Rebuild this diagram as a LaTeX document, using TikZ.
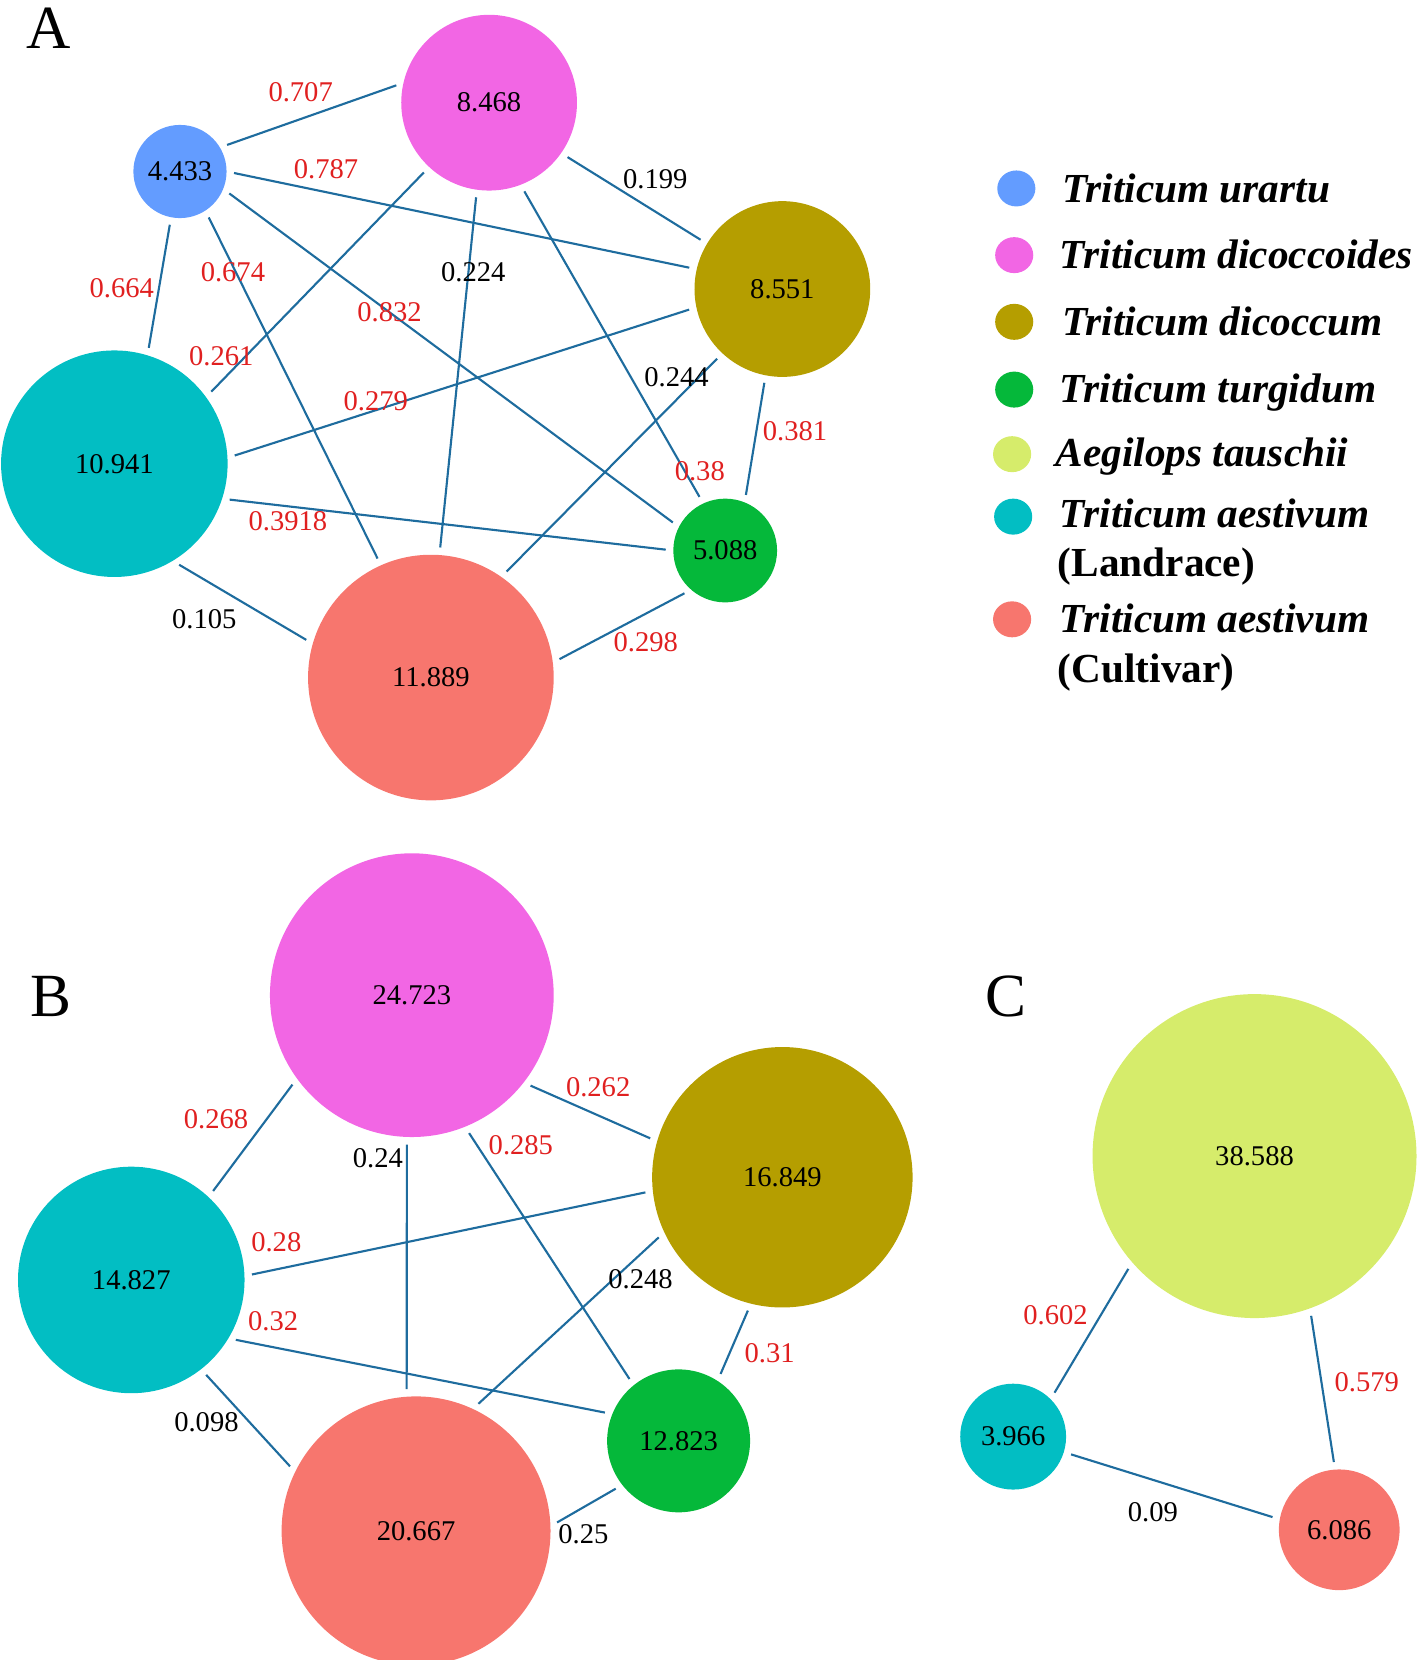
\documentclass[tikz,border=0pt]{standalone}
\usepackage{fontspec}
\usetikzlibrary{shapes.geometric}
\setmainfont{Liberation Serif}
\definecolor{cU}{RGB}{99,156,255}
\definecolor{cDs}{RGB}{242,102,228}
\definecolor{cDm}{RGB}{181,158,0}
\definecolor{cG}{RGB}{5,184,58}
\definecolor{cAe}{RGB}{214,236,107}
\definecolor{cT}{RGB}{2,190,195}
\definecolor{cC}{RGB}{247,118,110}
\definecolor{lineblue}{RGB}{30,108,158}
\definecolor{labred}{RGB}{224,32,32}
\begin{document}
\begin{tikzpicture}[x=1pt,y=-1pt,
  vtx/.style={circle, inner sep=0pt, draw=none, font=\fontsize{27}{27}\selectfont},
  conn/.style={draw=lineblue, line width=2pt, shorten >=7pt, shorten <=7pt},
  redlab/.style={text=labred, inner sep=0pt, font=\fontsize{27}{27}\selectfont},
  blklab/.style={text=black, inner sep=0pt, font=\fontsize{27}{27}\selectfont},
  paneltag/.style={inner sep=0pt, font=\fontsize{58}{58}\selectfont},
  legdot/.style={ellipse, inner sep=0pt, minimum width=36pt, minimum height=34pt, draw=none},
  legtxt/.style={anchor=base west, inner sep=0pt, font=\fontsize{39}{39}\selectfont\bfseries\itshape},
  legtxtup/.style={anchor=base west, inner sep=0pt, font=\fontsize{39}{39}\selectfont\bfseries}
]
\useasboundingbox (0,0) rectangle (1345,1568);

% ---------- Panel A ----------
\node[paneltag] (tagA) at (46,27) {A};
\node[vtx, fill=cU,  minimum size=88pt]  (aU)  at (170,162) {4.433};
\node[vtx, fill=cDs, minimum size=166pt] (aDs) at (462,97)  {8.468};
\node[vtx, fill=cDm, minimum size=166pt] (aDm) at (739,273) {8.551};
\node[vtx, fill=cT,  minimum size=214pt] (aT)  at (108,438) {10.941};
\node[vtx, fill=cG,  minimum size=98pt]  (aG)  at (685,520) {5.088};
\node[vtx, fill=cC,  minimum size=232pt] (aC)  at (407,640) {11.889};

\draw[conn] (aU.31)   -- (aDs.167);
\draw[conn] (aU.0)    -- (aDm.167);
\draw[conn] (aU.259)  -- (aT.73);
\draw[conn] (aU.-57)  -- (aC.114);
\draw[conn] (aU.-22)  -- (aG.153);
\draw[conn] (aDs.227) -- (aT.36);
\draw[conn] (aDs.262) -- (aC.86);
\draw[conn] (aDs.-69) -- (aG.115);
\draw[conn] (aDs.-35) -- (aDm.149);
\draw[conn] (aDm.192) -- (aT.3);
\draw[conn] (aDm.227) -- (aC.55);
\draw[conn] (aDm.259) -- (aG.68);
\draw[conn] (aT.-18)  -- (aG.180);
\draw[conn] (aT.-59)  -- (aC.164);
\draw[conn] (aC.7)    -- (aG.229);

\node[redlab] (lA1)  at (284,87)  {0.707};
\node[redlab] (lA2)  at (308,160) {0.787};
\node[redlab] (lA3)  at (115,272) {0.664};
\node[redlab] (lA4)  at (220,257) {0.674};
\node[redlab] (lA5)  at (368,295) {0.832};
\node[redlab] (lA6)  at (209,336) {0.261};
\node[blklab] (lA7)  at (447,257) {0.224};
\node[redlab] (lA8)  at (661,445) {0.38};
\node[blklab] (lA9)  at (619,169) {0.199};
\node[redlab] (lA10) at (355,379) {0.279};
\node[blklab] (lA11) at (639,356) {0.244};
\node[redlab] (lA12) at (751,407) {0.381};
\node[redlab] (lA13) at (272,492) {0.3918};
\node[blklab] (lA14) at (193,585) {0.105};
\node[redlab] (lA15) at (610,607) {0.298};

% ---------- Legend ----------
\node[legdot, fill=cU]  (dU)  at (960,178) {};
\node[legdot, fill=cDs] (dDs) at (958,241) {};
\node[legdot, fill=cDm] (dDm) at (958,304) {};
\node[legdot, fill=cG]  (dG)  at (958,368) {};
\node[legdot, fill=cAe] (dAe) at (956,429) {};
\node[legdot, fill=cT]  (dT)  at (957,488) {};
\node[legdot, fill=cC]  (dC)  at (956,585) {};

\node[legtxt] (tU)  at (1003,191) {Triticum urartu};
\node[legtxt] (tDs) at (1001,254) {Triticum dicoccoides};
\node[legtxt] (tDm) at (1003,317) {Triticum dicoccum};
\node[legtxt] (tG)  at (1001,380) {Triticum turgidum};
\node[legtxt] (tAe) at (997,441)  {Aegilops tauschii};
\node[legtxt] (tT)  at (1001,498) {Triticum aestivum};
\node[legtxtup] (tT2) at (999,545) {(Landrace)};
\node[legtxt] (tC)  at (1001,597) {Triticum aestivum};
\node[legtxtup] (tC2) at (999,645) {(Cultivar)};

% ---------- Panel B ----------
\node[paneltag] (tagB) at (48,941) {B};
\node[vtx, fill=cDs, minimum size=268pt] (bDs) at (389,940)  {24.723};
\node[vtx, fill=cDm, minimum size=246pt] (bDm) at (739,1112) {16.849};
\node[vtx, fill=cT,  minimum size=214pt] (bT)  at (124,1209) {14.827};
\node[vtx, fill=cG,  minimum size=135pt] (bG)  at (641,1361) {12.823};
\node[vtx, fill=cC,  minimum size=254pt] (bC)  at (393,1446) {20.667};

\draw[conn] (bDs.216) -- (bT.47);
\draw[conn] (bDs.268) -- (bC.94);
\draw[conn] (bDs.-68) -- (bG.129);
\draw[conn] (bDs.-38) -- (bDm.164);
\draw[conn] (bT.2)    -- (bDm.186);
\draw[conn] (bT.-31)  -- (bG.158);
\draw[conn] (bT.-52)  -- (bC.154);
\draw[conn] (bDm.205) -- (bC.65);
\draw[conn] (bDm.256) -- (bG.57);
\draw[conn] (bC.2)    -- (bG.218);

\node[redlab] (lB1)  at (204,1057) {0.268};
\node[blklab] (lB2)  at (357,1094) {0.24};
\node[redlab] (lB3)  at (492,1082) {0.285};
\node[redlab] (lB4)  at (565,1027) {0.262};
\node[redlab] (lB5)  at (261,1173) {0.28};
\node[redlab] (lB6)  at (258,1248) {0.32};
\node[blklab] (lB7)  at (195,1343) {0.098};
\node[blklab] (lB8)  at (605,1208) {0.248};
\node[redlab] (lB9)  at (727,1278) {0.31};
\node[blklab] (lB10) at (551,1449) {0.25};

% ---------- Panel C ----------
\node[paneltag] (tagC) at (950,941) {C};
\node[vtx, fill=cAe, minimum size=306pt] (cAeN) at (1185,1092) {38.588};
\node[vtx, fill=cT,  minimum size=100pt] (cTN)  at (957,1357)  {3.966};
\node[vtx, fill=cC,  minimum size=114pt] (cCN)  at (1265,1445) {6.086};

\draw[conn] (cAeN.221) -- (cTN.45);
\draw[conn] (cAeN.-70) -- (cCN.94);
\draw[conn] (cTN.-17)  -- (cCN.170);

\node[redlab] (lC1) at (997,1242)  {0.602};
\node[redlab] (lC2) at (1291,1306) {0.579};
\node[blklab] (lC3) at (1089,1428) {0.09};
\end{tikzpicture}
\end{document}
